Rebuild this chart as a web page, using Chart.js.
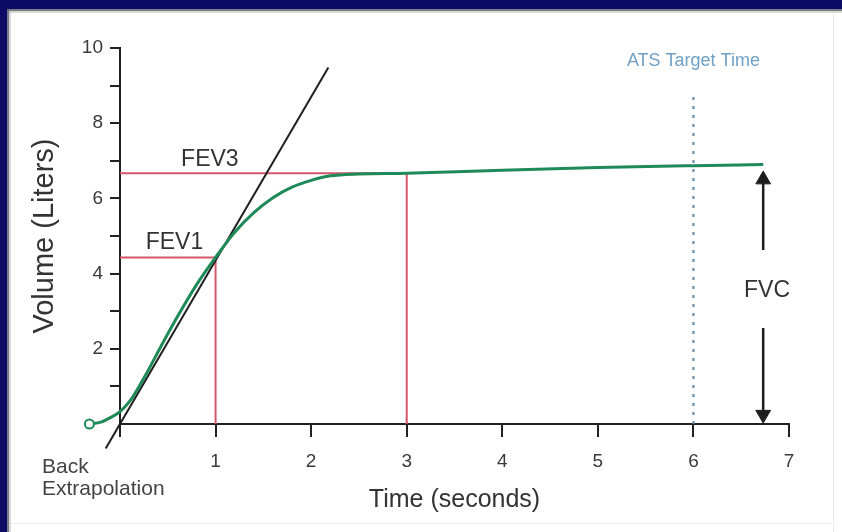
<!DOCTYPE html>
<html>
<head>
<meta charset="utf-8">
<script src="https://cdn.jsdelivr.net/npm/chart.js@4/dist/chart.umd.min.js"></script>
<style>
html,body{margin:0;padding:0;background:#fff;overflow:hidden}
#wrap{width:842px;height:532px;position:relative}
</style>
</head>
<body>
<div id="wrap"><canvas id="c" width="842" height="532"></canvas></div>
<script>
// ---- data ----
const timeSec = [-0.32, -0.2, -0.1, 0, 0.1, 0.2, 0.3, 0.4, 0.6, 0.8, 1.0, 1.2, 1.4, 1.6, 1.8, 2.0, 2.2, 2.5, 3.0, 4.0, 5.0, 6.0, 6.73];
const volumeL = [0, 0.05, 0.17, 0.33, 0.6, 1.0, 1.45, 1.93, 2.85, 3.7, 4.43, 5.1, 5.62, 6.02, 6.3, 6.48, 6.6, 6.65, 6.67, 6.75, 6.82, 6.87, 6.9];
const xTickValues = [0, 1, 2, 3, 4, 5, 6, 7];
const yTickLabels = [2, 4, 6, 8, 10];
const xRange = [0, 7];
const yRange = [0, 10];
const fev1Time = 1, fev1 = 4.43;
const fev3Time = 3, fev3 = 6.67;
const tangentTime = [-0.15, 2.18];
const tangentVol = [-0.65, 9.48];
const atsTime = 6, atsTop = 8.75;
const fvcTime = 6.73;
const fvcUpper = [6.45, 4.63];
const fvcLower = [2.55, 0.3];
const fvcHeads = [6.5, 0.25];

const FONT = "'Liberation Sans', Arial, Helvetica, sans-serif";
const curve = timeSec.map((t, i) => ({x: t, y: volumeL[i]}));

const framePlugin = {
  id: 'frame',
  beforeDraw(chart) {
    const ctx = chart.ctx, W = chart.width, H = chart.height;
    ctx.save();
    ctx.fillStyle = '#ffffff';
    ctx.fillRect(0, 0, W, H);
    ctx.fillStyle = '#0c0c66';
    ctx.fillRect(0, 0, W, 9);
    ctx.fillRect(0, 0, 7, H);
    ctx.fillStyle = 'rgba(100,100,110,0.85)';
    ctx.fillRect(7, 9, 2, H - 9);
    ctx.fillRect(7, 9, W - 7, 2);
    ctx.fillStyle = 'rgba(190,190,195,0.6)';
    ctx.fillRect(9, 11, 2, H - 11);
    ctx.fillRect(9, 11, W - 9, 2);
    ctx.fillStyle = '#ececec';
    ctx.fillRect(833, 13, 1, H - 13);
    ctx.fillRect(11, 523, 822, 1);
    ctx.restore();
  }
};

const textPlugin = {
  id: 'texts',
  afterDatasetsDraw(chart) {
    const ctx = chart.ctx, xs = chart.scales.x, ys = chart.scales.y;
    const px = v => xs.getPixelForValue(v), py = v => ys.getPixelForValue(v);
    ctx.save();
    // start-of-blow marker (outside the plot area, so drawn here through the scales)
    ctx.beginPath();
    ctx.arc(px(timeSec[0]), py(volumeL[0]), 4.5, 0, Math.PI * 2);
    ctx.fillStyle = '#ffffff';
    ctx.fill();
    ctx.lineWidth = 2;
    ctx.strokeStyle = '#1d8a58';
    ctx.stroke();

    ctx.textBaseline = 'middle';
    ctx.textAlign = 'center';
    ctx.fillStyle = '#333';
    ctx.font = '23px ' + FONT;
    ctx.fillText('FEV3', px(0.94), py(7.02));
    ctx.fillText('FEV1', px(0.57), py(4.81));
    ctx.fillText('FVC', px(fvcTime + 0.04), py(3.55));
    ctx.fillStyle = '#6f9fc4';
    ctx.font = '18px ' + FONT;
    ctx.fillText('ATS Target Time', px(atsTime), py(9.65));
    ctx.fillStyle = '#444';
    ctx.font = '21px ' + FONT;
    ctx.textAlign = 'left';
    ctx.fillText('Back', 42, 467);
    ctx.fillText('Extrapolation', 42, 489);
    ctx.restore();
  }
};

new Chart(document.getElementById('c'), {
  type: 'scatter',
  data: {
    datasets: [
      { label: 'Volume', data: curve, showLine: true, borderColor: '#1d8a58', borderWidth: 3,
        pointRadius: 0, cubicInterpolationMode: 'monotone', clip: false },
      { label: 'Back extrapolation', data: tangentTime.map((t, i) => ({x: t, y: tangentVol[i]})), showLine: true,
        borderColor: '#1e1e1e', borderWidth: 2, pointRadius: 0, clip: false },
      { label: 'FEV1', data: [{x: 0, y: fev1}, {x: fev1Time, y: fev1}, {x: fev1Time, y: 0}], showLine: true,
        borderColor: '#d4566b', borderWidth: 2, pointRadius: 0, tension: 0, clip: false },
      { label: 'FEV3', data: [{x: 0, y: fev3}, {x: fev3Time, y: fev3}, {x: fev3Time, y: 0}], showLine: true,
        borderColor: '#d4566b', borderWidth: 2, pointRadius: 0, tension: 0, clip: false },
      { label: 'ATS', data: [{x: atsTime, y: 0}, {x: atsTime, y: atsTop}], showLine: true,
        borderColor: '#5b87a6', borderWidth: 2, borderDash: [3, 6], pointRadius: 0, clip: false },
      { label: 'FVC up', data: fvcUpper.map(v => ({x: fvcTime, y: v})), showLine: true,
        borderColor: '#1e1e1e', borderWidth: 2.5, pointRadius: 0, clip: false },
      { label: 'FVC down', data: fvcLower.map(v => ({x: fvcTime, y: v})), showLine: true,
        borderColor: '#1e1e1e', borderWidth: 2.5, pointRadius: 0, clip: false },
      { label: 'FVC heads', data: fvcHeads.map(v => ({x: fvcTime, y: v})), showLine: false,
        pointStyle: 'triangle', pointRadius: 8.5, pointRotation: [0, 180],
        pointBackgroundColor: '#1e1e1e', pointBorderColor: '#1e1e1e', pointBorderWidth: 1, clip: false }
    ]
  },
  options: {
    responsive: false,
    animation: false,
    devicePixelRatio: 1,
    layout: { padding: { left: 0, right: 53, top: 48, bottom: 0 } },
    plugins: { legend: { display: false }, tooltip: { enabled: false } },
    scales: {
      x: {
        type: 'linear',
        afterDataLimits: s => { s.min = xRange[0]; s.max = xRange[1]; },
        afterBuildTicks: s => { s.ticks = xTickValues.map(v => ({value: v})); },
        afterFit: s => { s.height = 108; },
        ticks: { callback: v => (v === 0 ? '' : v), color: '#3a3a3a', padding: 13,
                 font: { family: FONT, size: 19 } },
        grid: { drawOnChartArea: false, drawTicks: true, tickLength: 13, color: '#222', lineWidth: 2 },
        border: { display: true, color: '#222', width: 2 },
        title: { display: true, text: 'Time (seconds)', color: '#333',
                 font: { family: FONT, size: 25 }, padding: { top: 0, bottom: 17 } }
      },
      y: {
        type: 'linear', min: yRange[0], max: yRange[1],
        ticks: { stepSize: 1, callback: v => (yTickLabels.includes(v) ? v : ''), color: '#3a3a3a', padding: 7,
                 font: { family: FONT, size: 19 } },
        afterFit: s => { s.width = 120; },
        grid: { drawOnChartArea: false, drawTicks: true, tickLength: 10, lineWidth: 2,
                color: c => (c.tick && c.tick.value === 0 ? 'rgba(0,0,0,0)' : '#222') },
        border: { display: true, color: '#222', width: 2 },
        title: { display: true, text: 'Volume (Liters)', color: '#333',
                 font: { family: FONT, size: 29 }, padding: { top: 28, bottom: 0 } }
      }
    }
  },
  plugins: [framePlugin, textPlugin]
});
</script>
</body>
</html>
